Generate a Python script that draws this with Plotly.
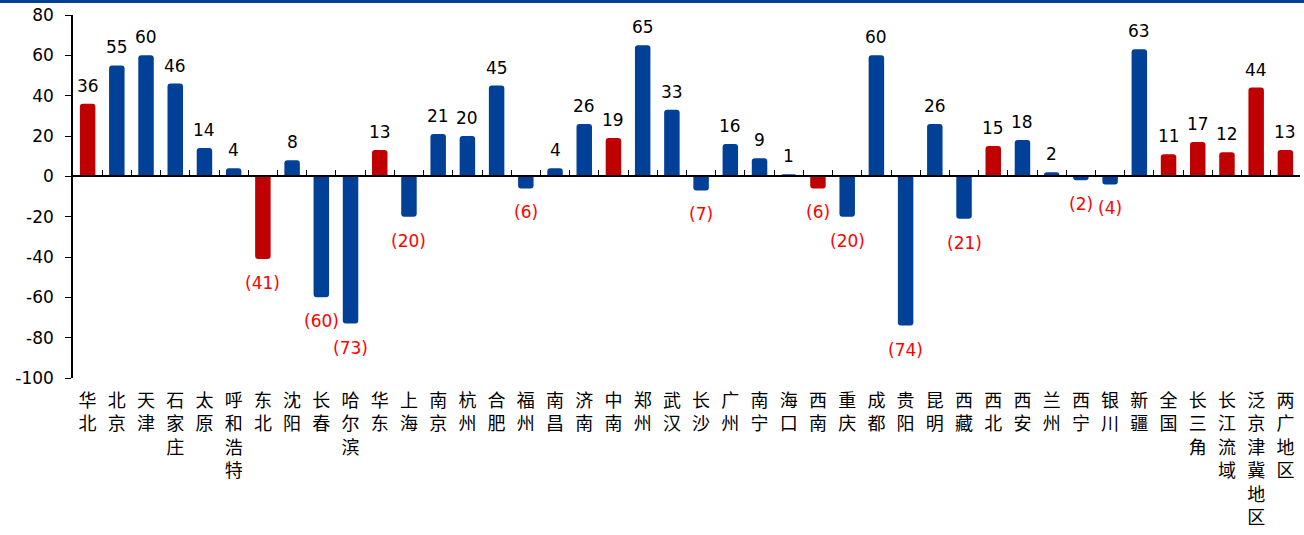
import plotly.graph_objects as go

categories = ["华北", "北京", "天津", "石家庄", "太原", "呼和浩特", "东北", "沈阳", "长春", "哈尔滨",
              "华东", "上海", "南京", "杭州", "合肥", "福州", "南昌", "济南", "中南", "郑州",
              "武汉", "长沙", "广州", "南宁", "海口", "西南", "重庆", "成都", "贵阳", "昆明",
              "西藏", "西北", "西安", "兰州", "西宁", "银川", "新疆", "全国", "长三角", "长江流域",
              "泛京津冀地区", "两广地区"]
values = [36, 55, 60, 46, 14, 4, -41, 8, -60, -73,
          13, -20, 21, 20, 45, -6, 4, 26, 19, 65,
          33, -7, 16, 9, 1, -6, -20, 60, -74, 26,
          -21, 15, 18, 2, -2, -4, 63, 11, 17, 12,
          44, 13]
regional = ["华北", "东北", "华东", "中南", "西南", "西北", "全国", "长三角", "长江流域", "泛京津冀地区", "两广地区"]
y_ticks = [-100, -80, -60, -40, -20, 0, 20, 40, 60, 80]
y_tick_text = ["-100", "-80", "-60", "-40", "-20", "0", "20", "40", "60", "80"]

BLUE = "#004097"
RED = "#C00000"
colors = [RED if c in regional else BLUE for c in categories]
labels = ["<br>".join(list(c)) for c in categories]

fig = go.Figure()
fig.add_trace(go.Bar(x=labels, y=values, marker=dict(color=colors, line=dict(width=0), cornerradius=3),
                     width=0.53, hoverinfo="skip", xaxis="x", yaxis="y"))
fig.add_trace(go.Scatter(x=labels, y=values, mode="markers", marker=dict(size=0, opacity=0),
                         hoverinfo="skip", showlegend=False, xaxis="x2", yaxis="y"))

for lab, v in zip(labels, values):
    if v >= 0:
        fig.add_annotation(x=lab, y=v, text=str(v), showarrow=False, yanchor="bottom", yshift=6,
                           font=dict(family="DejaVu Sans", size=17, color="black"))
    else:
        fig.add_annotation(x=lab, y=v, text=f"({-v})", showarrow=False, yanchor="top", yshift=-12,
                           font=dict(family="DejaVu Sans", size=17, color="#FF0000"))

fig.add_shape(type="line", xref="paper", yref="paper", x0=-0.07, x1=1.01, y0=1.037, y1=1.037,
              line=dict(color="#004097", width=3))

fig.update_layout(
    width=1304, height=535,
    margin=dict(l=73, r=4, t=15, b=157),
    plot_bgcolor="white", paper_bgcolor="white",
    showlegend=False,
    font=dict(family="DejaVu Sans", size=17, color="black"),
    xaxis=dict(type="category", range=[-0.5, len(categories) - 0.5], showline=False, ticks="",
               showgrid=False, zeroline=False,
               tickfont=dict(family="Noto Sans CJK SC", size=18, color="black"), ticklabelstandoff=10),
    xaxis2=dict(type="category", overlaying="x", anchor="free", position=100 / 180, side="bottom",
                range=[-0.5, len(categories) - 0.5], showline=True, linecolor="black", linewidth=1.5,
                ticks="inside", tickson="boundaries", ticklen=6, tickcolor="black", tickwidth=1,
                showticklabels=False, showgrid=False, zeroline=False),
    yaxis=dict(range=[-100, 80], tickvals=y_ticks, ticktext=y_tick_text, showgrid=False, zeroline=False,
               showline=True, linecolor="black", linewidth=1.5, ticks="outside", ticklen=6,
               tickcolor="black", tickfont=dict(family="DejaVu Sans", size=17, color="black"),
               ticklabelstandoff=8),
)

fig.write_html("out.html")
